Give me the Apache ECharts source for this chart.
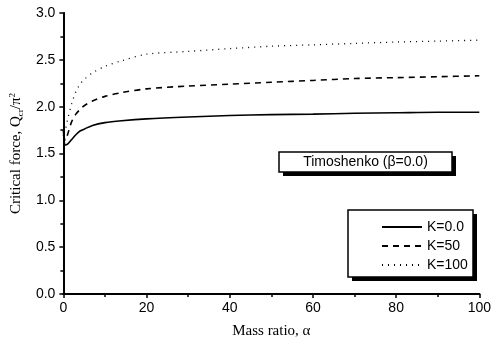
<!DOCTYPE html>
<html>
<head>
<meta charset="utf-8">
<script src="https://cdn.jsdelivr.net/npm/echarts@6/dist/echarts.min.js"></script>
<style>
  html, body { margin: 0; padding: 0; background: #fff; }
  #chart { width: 494px; height: 351px; }
</style>
</head>
<body>
<div id="chart"></div>
<script>
// mass ratio values
const alphaVals = [0, 0.5, 1, 2, 3, 4, 5, 7, 10, 14, 20, 30, 40, 50, 60, 70, 80, 90, 100]
const k0 = [1.75, 1.59, 1.60, 1.65, 1.70, 1.74, 1.76, 1.80, 1.83, 1.85, 1.87, 1.89, 1.905, 1.915, 1.92, 1.93, 1.935, 1.94, 1.94]
const k50 = [1.70, 1.64, 1.70, 1.84, 1.92, 1.97, 2.01, 2.06, 2.11, 2.15, 2.19, 2.22, 2.24, 2.26, 2.28, 2.30, 2.31, 2.32, 2.33]
const k100 = [1.72, 1.76, 1.86, 2.03, 2.16, 2.24, 2.29, 2.36, 2.43, 2.49, 2.56, 2.59, 2.62, 2.645, 2.66, 2.675, 2.69, 2.70, 2.71]
const seriesNames = ['K=0.0', 'K=50', 'K=100']
const lineTypes = ['solid', [6, 5], [1, 5]]

const pairs = arr => alphaVals.map((a, i) => [a, arr[i]])

const chart = echarts.init(document.getElementById('chart'))

const sansFont = '"Liberation Sans", Arial, sans-serif'
const serifFont = '"Liberation Serif", "Times New Roman", serif'

const baseAxis = {
  axisLine: { show: true, lineStyle: { color: '#000', width: 2 } },
  splitLine: { show: false }
}

const option = {
  animation: false,
  grid: { left: 63, right: 10, top: 13, bottom: 57 },
  legend: {
    orient: 'vertical',
    left: 376,
    top: 215,
    itemWidth: 40,
    itemHeight: 12,
    itemGap: 5,
    z: 10,
    itemStyle: { opacity: 0 },
    textStyle: { fontFamily: sansFont, fontSize: 14, color: '#000' },
    data: seriesNames
  },
  xAxis: [
    {
      ...baseAxis,
      type: 'value',
      min: 0,
      max: 100,
      interval: 20,
      name: 'Mass ratio, α',
      nameLocation: 'middle',
      nameGap: 30,
      nameTextStyle: { fontFamily: serifFont, fontSize: 15, color: '#000' },
      axisTick: { show: true, length: 4, lineStyle: { color: '#000', width: 1.5 } },
      minorTick: { show: true, splitNumber: 2, length: 3, lineStyle: { color: '#000', width: 1.5 } },
      axisLabel: { fontFamily: sansFont, fontSize: 14, color: '#000', margin: 7 }
    },
    {
      ...baseAxis,
      type: 'value',
      position: 'top',
      min: 0,
      max: 100,
      axisTick: { show: false },
      axisLabel: { show: false }
    }
  ],
  yAxis: [
    {
      ...baseAxis,
      type: 'value',
      min: 0,
      max: 3,
      interval: 0.5,
      name: '{a|Critical force, Q}{b|cr}{a|/π}{c|2}',
      nameLocation: 'middle',
      nameGap: 38,
      nameTextStyle: {
        color: '#000',
        rich: {
          a: { fontFamily: serifFont, fontSize: 15, color: '#000' },
          b: { fontFamily: serifFont, fontSize: 9, color: '#000', verticalAlign: 'bottom', padding: [8, 0, 0, 0] },
          c: { fontFamily: serifFont, fontSize: 9, color: '#000', verticalAlign: 'top', padding: [0, 0, 8, 0] }
        }
      },
      axisTick: { show: true, length: 4, lineStyle: { color: '#000', width: 1.5 } },
      minorTick: { show: true, splitNumber: 2, length: 3, lineStyle: { color: '#000', width: 1.5 } },
      axisLabel: {
        fontFamily: sansFont, fontSize: 14, color: '#000', margin: 8,
        formatter: v => v.toFixed(1)
      }
    },
    {
      ...baseAxis,
      type: 'value',
      position: 'right',
      min: 0,
      max: 3,
      axisLine: { show: true, lineStyle: { color: '#000', width: 1.5 } },
      axisTick: { show: false },
      axisLabel: { show: false }
    }
  ],
  graphic: [
    // Timoshenko label box with shadow
    { type: 'rect', z: 5, shape: { x: 283, y: 156, width: 173, height: 20 }, style: { fill: '#000' } },
    { type: 'rect', z: 6, shape: { x: 279, y: 152, width: 173, height: 20 }, style: { fill: '#fff', stroke: '#000', lineWidth: 1.5 } },
    {
      type: 'text', z: 7, x: 365.5, y: 162,
      style: { text: 'Timoshenko (β=0.0)', font: '14px ' + sansFont, fill: '#000', align: 'center', verticalAlign: 'middle' }
    },
    // legend box with shadow
    { type: 'rect', z: 5, shape: { x: 352, y: 214, width: 125, height: 67 }, style: { fill: '#000' } },
    { type: 'rect', z: 6, shape: { x: 348, y: 210, width: 125, height: 67 }, style: { fill: '#fff', stroke: '#000', lineWidth: 1.5 } }
  ],
  series: seriesNames.map((name, i) => ({
    name,
    type: 'line',
    data: pairs([k0, k50, k100][i]),
    smooth: 0.3,
    showSymbol: false,
    symbol: 'none',
    z: 2,
    lineStyle: { color: '#000', width: i === 2 ? 1.3 : 1.6, type: lineTypes[i] },
    itemStyle: { color: '#000' }
  }))
}

chart.setOption(option)
</script>
</body>
</html>
